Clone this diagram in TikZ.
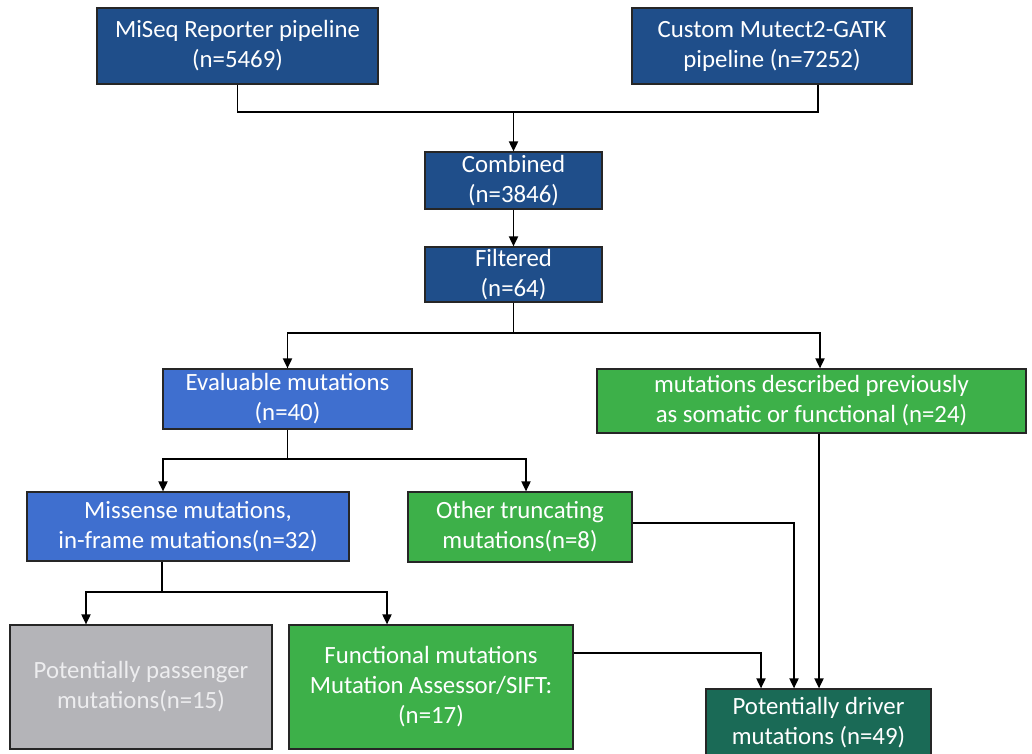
\documentclass[tikz,border=0pt]{standalone}
\usepackage{fontspec}
\setmainfont{Carlito}
\usetikzlibrary{arrows.meta,calc}
\definecolor{dblue}{HTML}{1F4E8A}
\definecolor{mblue}{HTML}{3F6FCF}
\definecolor{lgreen}{HTML}{3DB049}
\definecolor{lgrey}{HTML}{B4B4B8}
\definecolor{teal}{HTML}{1A6A56}
\definecolor{ptext}{HTML}{EDEDEF}
\tikzset{
  box/.style={draw=black!85, line width=1.2pt, rectangle, align=center, text=white,
    inner sep=0pt, font=\fontsize{24.8}{30}\selectfont},
  link/.style={line width=1.8pt, draw=black},
  arr/.style={link, -{Triangle[length=10pt,width=9pt]}},
}
\begin{document}
\begin{tikzpicture}[x=1pt,y=-1pt]
\useasboundingbox (0,0) rectangle (1032,753);
\clip (0,0) rectangle (1032,753);
\fill[white] (0,0) rectangle (1032,753);

\node[box, fill=dblue, minimum width=281pt, minimum height=76pt] (ms) at (237.5,46) {MiSeq Reporter pipeline\\(n=5469)};
\node[box, fill=dblue, minimum width=280pt, minimum height=76pt] (cu) at (772,46) {Custom Mutect2-GATK\\pipeline (n=7252)};
\node[box, fill=dblue, minimum width=177pt, minimum height=57pt] (comb) at (513.5,180.5) {Combined\\(n=3846)};
\node[box, fill=dblue, minimum width=177pt, minimum height=55pt] (filt) at (513.5,274.5) {Filtered\\(n=64)};
\node[box, fill=mblue, minimum width=249pt, minimum height=60pt] (eval) at (287.5,399) {Evaluable mutations\\(n=40)};
\node[box, fill=lgreen, minimum width=429pt, minimum height=64pt] (prev) at (811.5,401) {mutations described previously\\as somatic or functional (n=24)};
\node[box, fill=mblue, minimum width=322pt, minimum height=69pt] (miss) at (188,526.5) {Missense mutations,\\in-frame mutations(n=32)};
\node[box, fill=lgreen, minimum width=224pt, minimum height=70pt] (oth) at (520,527) {Other truncating\\mutations(n=8)};
\node[box, fill=lgrey, text=ptext, minimum width=262pt, minimum height=124pt] (pas) at (141,687) {Potentially passenger\\mutations(n=15)};
\node[box, fill=lgreen, minimum width=284pt, minimum height=124pt] (fun) at (431,687) {Functional mutations\\Mutation Assessor/SIFT:\\(n=17)};
\node[box, fill=teal, minimum width=225pt, minimum height=68pt] (drv) at (818.5,723) {Potentially driver\\mutations (n=49)};

% top merge
\coordinate (j1) at (513.5,112);
\draw[link] (ms.south) |- (j1);
\draw[link] ([xshift=46pt]cu.south) |- (j1);
\draw[arr] (j1) -- (comb.north);
\draw[arr] (comb.south) -- (filt.north);

% filtered split
\coordinate (j2) at (513.5,333);
\draw[link] (filt.south) -- (j2);
\draw[arr] (j2) -| (eval.north);
\draw[arr] (j2) -| ([xshift=8.5pt]prev.north);

% evaluable split
\coordinate (j3) at (287.5,459);
\draw[link] (eval.south) -- (j3);
\draw[arr] (j3) -| ([xshift=-25pt]miss.north);
\draw[arr] (j3) -| ([xshift=6pt]oth.north);

% missense split
\coordinate (j4) at (162,592);
\draw[link] ([xshift=-26pt]miss.south) -- (j4);
\draw[arr] (j4) -| ([xshift=-55pt]pas.north);
\draw[arr] (j4) -| ([xshift=-44pt]fun.north);

% to driver
\draw[arr] ([yshift=4pt]oth.east) -| ([xshift=-24.5pt]drv.north);
\draw[arr] ([yshift=34pt]fun.east) -| ([xshift=-57.5pt]drv.north);
\draw[arr] ([xshift=7.5pt]prev.south) -- ([xshift=0.5pt]drv.north);
\end{tikzpicture}
\end{document}
